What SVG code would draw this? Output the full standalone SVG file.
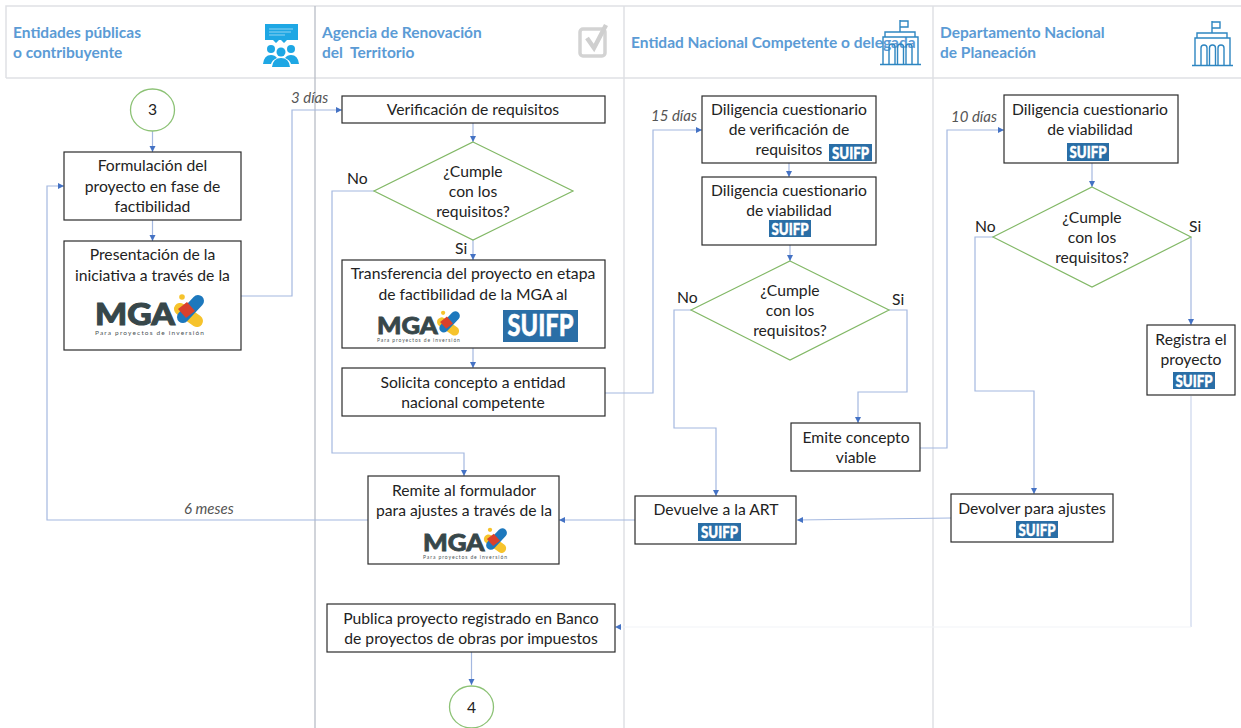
<svg xmlns="http://www.w3.org/2000/svg" width="1241" height="728" viewBox="0 0 1241 728">
<style>
text{font-family:Lato,Carlito,"Liberation Sans",sans-serif}
.lane{stroke:#dfe1e5;stroke-width:1.5;fill:none}
.lane2{stroke:#b9bdc6;stroke-width:1.3;fill:none}
.hd{font-size:15.5px;font-weight:700;fill:#5b9bd5}
.t{font-size:15.7px;fill:#222;text-anchor:middle}
.lb{font-size:15.7px;fill:#222}
.d{font-size:15px;font-style:italic;fill:#555}
.box{fill:#fff;stroke:#2b2b2b;stroke-width:1.2}
.dia{fill:#fff;stroke:#82b866;stroke-width:1.2}
.cir{fill:#fff;stroke:#8cc275;stroke-width:1.3}
.c{fill:none;stroke:#a4b8e0;stroke-width:1.2;marker-end:url(#arr)}
.n{fill:none;stroke:#a4b8e0;stroke-width:1.2}
.sb{fill:#2a6ea6}
.st{fill:#fff;font-weight:900;text-anchor:middle;stroke:#fff;stroke-width:.4}
.mga{font-weight:900;fill:#37474a;stroke:#37474a;stroke-width:1}
.sub{fill:#4c5557}
.bi{fill:none;stroke:#2e86c1;stroke-width:1.4}
</style>
<defs>
<marker id="arr" markerUnits="userSpaceOnUse" markerWidth="7" markerHeight="7" refX="6" refY="3" orient="auto"><path d="M0,0L6,3L0,6z" fill="#4472c4"/></marker>
<g id="mark">
<line x1="85" y1="17" x2="102" y2="29" stroke="#f6c32c" stroke-width="12" stroke-linecap="round"/>
<line x1="103" y1="9" x2="88" y2="25" stroke="#1d78bd" stroke-width="12" stroke-linecap="round"/>
<path d="M83,17L92,10L100,19L91,26z" fill="#d9402c"/>
<circle cx="87" cy="5" r="2.800" fill="#f6c32c"/>
</g>
<g id="bld">
<path class="bi" d="M0,44.500H41M3,44V17H38V44M5,17V12H35V17M20,12V0M20,1H28V7H20M9,44V27Q9,24 12,24Q15,24 15,27V44M17.500,44V27Q17.500,24 20.500,24Q23.500,24 23.500,27V44M26,44V27Q26,24 29,24Q32,24 32,27V44"/>
</g>
</defs>

<g id="lanes">
<path class="lane" d="M6,78V6H1241M6,78H1241M624,6V728M933,6V728"/>
<path class="lane2" d="M315,6V728"/>
</g>

<g id="headers">
<text class="hd" x="13" y="38">Entidades públicas</text>
<text class="hd" x="13" y="58">o contribuyente</text>
<text class="hd" x="322" y="38">Agencia de Renovación</text>
<text class="hd" x="322" y="58" xml:space="preserve">del  Territorio</text>
<text class="hd" x="631" y="48">Entidad Nacional Competente o delegada</text>
<text class="hd" x="940" y="38">Departamento Nacional</text>
<text class="hd" x="940" y="58">de Planeación</text>
<g id="icon-people" fill="#1ea7e4">
<path d="M265,24H298V40H287L284,43L281,40H279L276,43L273,40H265z"/>
<path d="M269,29H293M269,32H291M269,35H285" stroke="#8fd3f2" stroke-width="1" fill="none"/>
<circle cx="271" cy="49" r="4"/><circle cx="291" cy="49" r="4"/><circle cx="281" cy="52" r="4.500"/>
<path d="M263,64Q264,55 271,55Q275,55 277,58Q272,60 271,64zM299,64Q298,55 291,55Q287,55 285,58Q290,60 291,64zM272,67Q273,58 281,58Q289,58 290,67z"/>
</g>
<g id="icon-check">
<rect x="580" y="29" width="25" height="27" rx="3" fill="none" stroke="#d3d3d3" stroke-width="3.500"/>
<path d="M587,38L594,48L606,25" fill="none" stroke="#cfcfcf" stroke-width="4.500"/>
</g>
<use id="icon-building1" href="#bld" x="880" y="20"/>
<use id="icon-building2" href="#bld" x="1192" y="21"/>
</g>

<g id="connectors">
<path class="c" d="M152.500,131V152"/>
<path class="c" d="M152.500,220V241"/>
<path class="c" d="M241,296H292V110H342"/>
<path class="c" d="M473,123V142"/>
<path class="c" d="M473,240V260"/>
<path class="c" d="M374,191H332V453H464V476"/>
<path class="c" d="M473,348V368"/>
<path class="c" d="M605,393H653V130H702"/>
<path class="c" d="M789,163V177"/>
<path class="c" d="M790,245V261"/>
<path class="c" d="M691,310H674V428H716V496"/>
<path class="c" d="M889,310H907V392H858V423"/>
<path class="c" d="M920,448H947V130H1004"/>
<path class="c" d="M1092,163V187"/>
<path class="c" d="M993,237H975V391H1034V494"/>
<path class="c" d="M1191,237V325"/>
<path class="n" d="M1191,396V627" style="stroke:#ccd6ec"/>
<path class="c" d="M1191,627H615" style="stroke:#f1f3f8"/>
<path class="c" d="M951,518L797,520"/>
<path class="c" d="M635,520H559"/>
<path class="c" d="M368,520H47V186H64"/>
<path class="c" d="M471.500,652V685"/>
</g>

<g id="labels">
<text class="d" x="291" y="103">3 días</text>
<text class="d" x="651" y="121">15 días</text>
<text class="d" x="951" y="122">10 días</text>
<text class="d" x="184" y="514">6 meses</text>
<text class="lb" x="347" y="184">No</text>
<text class="lb" x="455" y="254">Si</text>
<text class="lb" x="677" y="303">No</text>
<text class="lb" x="892" y="305">Si</text>
<text class="lb" x="975" y="232">No</text>
<text class="lb" x="1189" y="232">Si</text>
</g>

<g id="n-start"><ellipse class="cir" cx="152.500" cy="110" rx="22" ry="21"/><text class="t" x="152.500" y="115">3</text></g>
<g id="n-formulacion"><rect class="box" x="64" y="152" width="177" height="68"/><text class="t" x="152.500" y="171">Formulación del</text><text class="t" x="152.500" y="192">proyecto en fase de</text><text class="t" x="152.500" y="212">factibilidad</text></g>
<g id="n-presentacion"><rect class="box" x="64" y="241" width="177" height="109"/><text class="t" x="152.500" y="260">Presentación de la</text><text class="t" x="152.500" y="281">iniciativa a través de la</text>
<g transform="translate(95,292)"><use href="#mark"/><text class="mga" x="0" y="33" font-size="30" textLength="80" lengthAdjust="spacingAndGlyphs">MGA</text><text class="sub" x="0" y="43" font-size="6.500" textLength="109">Para proyectos de inversión</text></g></g>
<g id="n-verificacion"><rect class="box" x="342" y="96" width="263" height="27"/><text class="t" x="473" y="115">Verificación de requisitos</text></g>
<g id="n-d1"><path class="dia" d="M473,142L573,191L473,240L374,191z"/><text class="t" x="473" y="177">¿Cumple</text><text class="t" x="473" y="197">con los</text><text class="t" x="473" y="217">requisitos?</text></g>
<g id="n-transferencia"><rect class="box" x="342" y="260" width="263" height="88"/><text class="t" x="473" y="279">Transferencia del proyecto en etapa</text><text class="t" x="473" y="300">de factibilidad de la MGA al</text>
<g transform="translate(377,309) scale(.76)"><use href="#mark"/><text class="mga" x="0" y="33" font-size="30" textLength="80" lengthAdjust="spacingAndGlyphs">MGA</text><text class="sub" x="0" y="43" font-size="6.500" textLength="109">Para proyectos de inversión</text></g>
<rect class="sb" x="503" y="310" width="75" height="32"/><text class="st" x="540.500" y="336" font-size="30" textLength="66" lengthAdjust="spacingAndGlyphs">SUIFP</text></g>
<g id="n-solicita"><rect class="box" x="342" y="368" width="263" height="48"/><text class="t" x="473" y="388">Solicita concepto a entidad</text><text class="t" x="473" y="408">nacional competente</text></g>
<g id="n-remite"><rect class="box" x="368" y="476" width="191" height="88"/><text class="t" x="464" y="496">Remite al formulador</text><text class="t" x="464" y="516">para ajustes a través de la</text>
<g transform="translate(423,526) scale(.77)"><use href="#mark"/><text class="mga" x="0" y="33" font-size="30" textLength="80" lengthAdjust="spacingAndGlyphs">MGA</text><text class="sub" x="0" y="43" font-size="6.500" textLength="109">Para proyectos de inversión</text></g></g>
<g id="n-publica"><rect class="box" x="327" y="604" width="288" height="48"/><text class="t" x="471" y="624">Publica proyecto registrado en Banco</text><text class="t" x="471" y="644">de proyectos de obras por impuestos</text></g>
<g id="n-end"><ellipse class="cir" cx="471.500" cy="707" rx="22" ry="21"/><text class="t" x="471.500" y="713">4</text></g>
<g id="n-dil1"><rect class="box" x="702" y="96" width="174" height="67"/><text class="t" x="789" y="115">Diligencia cuestionario</text><text class="t" x="789" y="135">de verificación de</text><text class="t" x="789" y="155">requisitos</text><rect class="sb" x="829" y="144" width="43" height="17"/><text class="st" x="850.500" y="158.500" font-size="16" textLength="37" lengthAdjust="spacingAndGlyphs">SUIFP</text></g>
<g id="n-dil2"><rect class="box" x="702" y="177" width="174" height="68"/><text class="t" x="789" y="196">Diligencia cuestionario</text><text class="t" x="789" y="216">de viabilidad</text><rect class="sb" x="769" y="220" width="42" height="17"/><text class="st" x="790" y="234.500" font-size="16" textLength="37" lengthAdjust="spacingAndGlyphs">SUIFP</text></g>
<g id="n-d2"><path class="dia" d="M790,261L889,310L790,360L691,310z"/><text class="t" x="790" y="296">¿Cumple</text><text class="t" x="790" y="316">con los</text><text class="t" x="790" y="336">requisitos?</text></g>
<g id="n-emite"><rect class="box" x="791" y="423" width="129" height="48"/><text class="t" x="856" y="443">Emite concepto</text><text class="t" x="856" y="463">viable</text></g>
<g id="n-devuelve"><rect class="box" x="635" y="496" width="161" height="48"/><text class="t" x="716" y="515">Devuelve a la ART</text><rect class="sb" x="698" y="523" width="43" height="18"/><text class="st" x="719.500" y="538" font-size="16" textLength="37" lengthAdjust="spacingAndGlyphs">SUIFP</text></g>
<g id="n-dil3"><rect class="box" x="1004" y="95" width="174" height="68"/><text class="t" x="1090" y="115">Diligencia cuestionario</text><text class="t" x="1090" y="135">de viabilidad</text><rect class="sb" x="1067" y="143" width="42" height="18"/><text class="st" x="1088" y="158" font-size="16" textLength="37" lengthAdjust="spacingAndGlyphs">SUIFP</text></g>
<g id="n-d3"><path class="dia" d="M1092,187L1191,237L1092,287L993,237z"/><text class="t" x="1092" y="223">¿Cumple</text><text class="t" x="1092" y="243">con los</text><text class="t" x="1092" y="263">requisitos?</text></g>
<g id="n-registra"><rect class="box" x="1147" y="325" width="88" height="70"/><text class="t" x="1191" y="345">Registra el</text><text class="t" x="1191" y="365">proyecto</text><rect class="sb" x="1173" y="372" width="42" height="17"/><text class="st" x="1194" y="386.500" font-size="16" textLength="37" lengthAdjust="spacingAndGlyphs">SUIFP</text></g>
<g id="n-devolver"><rect class="box" x="951" y="494" width="162" height="48"/><text class="t" x="1032" y="514">Devolver para ajustes</text><rect class="sb" x="1016" y="521" width="42" height="17"/><text class="st" x="1037" y="535.500" font-size="16" textLength="37" lengthAdjust="spacingAndGlyphs">SUIFP</text></g>
</svg>
